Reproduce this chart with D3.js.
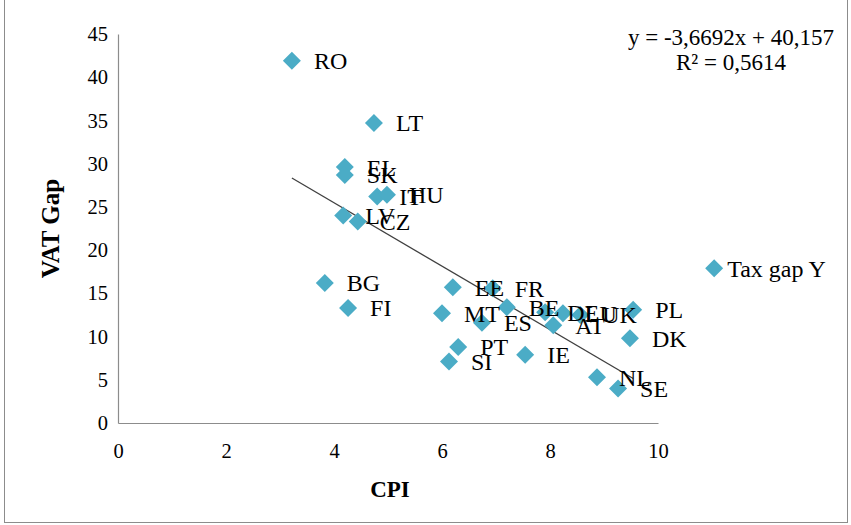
<!DOCTYPE html>
<html>
<head>
<meta charset="utf-8">
<script src="https://cdn.jsdelivr.net/npm/d3@7"></script>
<style>
  html, body { margin: 0; padding: 0; background: #fff; }
  svg { display: block; }
</style>
</head>
<body>
<svg id="chart" width="851" height="525"></svg>
<script>
// ---- data ----
const countries = ["RO","LT","EL","SK","IT","HU","LV","CZ","BG","FI","EE","FR","MT","ES","BE","DE","LU","UK","AT","PT","SI","IE","NL","SE","PL","DK","Tax gap Y"];
const cpi      = [3.22,4.74,4.20,4.20,4.80,4.98,4.17,4.44,3.83,4.26,6.20,6.94,6.00,6.74,7.20,7.91,8.24,8.56,8.06,6.30,6.13,7.54,8.87,9.26,9.54,9.48,11.04];
const vatGap   = [41.9,34.7,29.6,28.7,26.2,26.4,24.0,23.3,16.2,13.3,15.7,15.6,12.7,11.6,13.4,12.8,12.7,12.5,11.3,8.8,7.1,7.9,5.3,4.0,13.1,9.8,17.9];
const xTicks = [0,2,4,6,8,10];
const yTicks = [0,5,10,15,20,25,30,35,40,45];
const trendSlope = -3.6692;
const trendIntercept = 40.157;
const eqLine1 = "y = -3,6692x + 40,157";
const eqLine2 = "R² = 0,5614";

// ---- chart ----
const svg = d3.select("#chart");
const font = "'Liberation Serif', 'Times New Roman', serif";

svg.append("rect").attr("x", 4.5).attr("y", -1).attr("width", 843).attr("height", 523.5)
  .attr("fill", "none").attr("stroke", "#8c8c8c").attr("stroke-width", 1);

const x = d3.scaleLinear().domain([0, 10]).range([118, 658]);
const y = d3.scaleLinear().domain([0, 45]).range([423, 34]);

// axes
const xAxis = d3.axisBottom(x).tickValues(xTicks).tickSize(0).tickPadding(20);
const yAxis = d3.axisLeft(y).tickValues(yTicks).tickSize(0).tickPadding(10);

const gx = svg.append("g").attr("transform", `translate(0,${y(0)})`).call(xAxis);
const gy = svg.append("g").attr("transform", `translate(${x(0)},0)`).call(yAxis);
[gx, gy].forEach(g => {
  g.select(".domain").attr("stroke", "#8c8c8c").attr("stroke-width", 1.2);
  g.selectAll("text").attr("font-family", font).attr("font-size", 20.5).attr("fill", "#000");
});

// axis titles
svg.append("text").attr("x", x(5) + 2).attr("y", 497).attr("text-anchor", "middle")
  .attr("font-family", font).attr("font-size", 23).attr("font-weight", "bold").text("CPI");
svg.append("text").attr("transform", `translate(59,${y(22.5)}) rotate(-90)`).attr("text-anchor", "middle")
  .attr("font-family", font).attr("font-size", 25).attr("font-weight", "bold").text("VAT Gap");

// trendline over the country points (excluding the last series point)
const nC = countries.length - 1;
const xs = cpi.slice(0, nC);
const xMin = d3.min(xs), xMax = d3.max(xs);
svg.append("line")
  .attr("x1", x(xMin)).attr("y1", y(trendSlope * xMin + trendIntercept))
  .attr("x2", x(xMax)).attr("y2", y(trendSlope * xMax + trendIntercept))
  .attr("stroke", "#404040").attr("stroke-width", 1.3);

// points
const pts = countries.map((c, i) => ({ c, x: cpi[i], y: vatGap[i] }));
const diamond = "M0,-9L9,0L0,9L-9,0Z";
svg.append("g").selectAll("path").data(pts).join("path")
  .attr("d", diamond)
  .attr("transform", d => `translate(${x(d.x)},${y(d.y)})`)
  .attr("fill", "#4BACC6");

svg.append("g").selectAll("text").data(pts).join("text")
  .attr("x", d => x(d.x) + (d.c === "Tax gap Y" ? 13 : 22))
  .attr("y", d => y(d.y))
  .attr("dy", "0.35em")
  .attr("font-family", font).attr("font-size", 24).attr("fill", "#000")
  .text(d => d.c);

// equation
svg.append("text").attr("x", 731).attr("y", 45).attr("text-anchor", "middle")
  .attr("font-family", font).attr("font-size", 23).text(eqLine1);
svg.append("text").attr("x", 731).attr("y", 70).attr("text-anchor", "middle")
  .attr("font-family", font).attr("font-size", 23).text(eqLine2);
</script>
</body>
</html>
